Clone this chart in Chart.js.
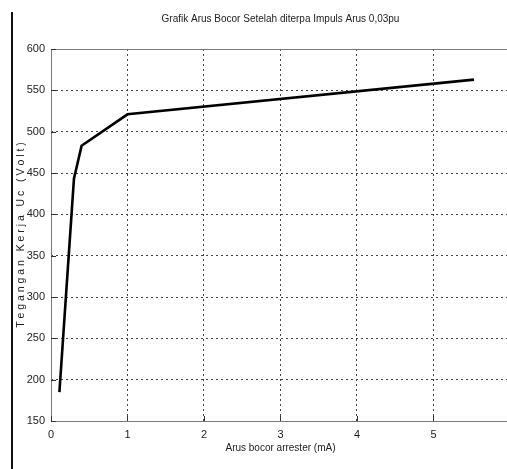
<!DOCTYPE html>
<html>
<head>
<meta charset="utf-8">
<script src="https://cdn.jsdelivr.net/npm/chart.js@4"></script>
<style>
  html, body { margin: 0; padding: 0; background: #fff; }
  #wrap { position: relative; width: 507px; height: 469px; overflow: hidden; }
  #edge { position: absolute; left: 11px; top: 12px; width: 2px; height: 457px; background: #111; }
  canvas { position: absolute; left: 0; top: 0; }
</style>
</head>
<body>
<div id="wrap">
  <canvas id="chart" width="520" height="469"></canvas>
  <div id="edge"></div>
</div>
<script>
const currentMa = [0.11, 0.30, 0.40, 1.0, 5.53];
const voltage = [185, 443, 483, 521, 563];
const xTicks = [0, 1, 2, 3, 4, 5, 6];
const yTicks = [150, 200, 250, 300, 350, 400, 450, 500, 550, 600];
const chartTitle = "Grafik Arus Bocor Setelah diterpa Impuls Arus 0,03pu";

const FONT = "'Liberation Sans', Arial, sans-serif";

// title is centred over the full (uncropped) axes box, so draw it by hand
const titlePlugin = {
  id: "plotTitle",
  afterDraw(chart) {
    const { ctx, chartArea } = chart;
    ctx.save();
    ctx.font = `10px ${FONT}`;
    ctx.fillStyle = "#222";
    ctx.textAlign = "center";
    ctx.textBaseline = "middle";
    ctx.fillText(chartTitle, (chartArea.left + chartArea.right) / 2, chartArea.top - 30);
    ctx.restore();
  }
};

const framePlugin = {
  id: "frame",
  afterDraw(chart) {
    const { ctx, chartArea } = chart;
    ctx.save();
    ctx.strokeStyle = "#7a7a7a";
    ctx.lineWidth = 1;
    ctx.strokeRect(chartArea.left + 0.5, chartArea.top + 0.5,
      chartArea.right - chartArea.left, chartArea.bottom - chartArea.top);
    // small inward tick marks like the original
    ctx.strokeStyle = "#333";
    const xs = chart.scales.x;
    const ys = chart.scales.y;
    xTicks.forEach((v) => {
      const px = Math.round(xs.getPixelForValue(v)) + 0.5;
      ctx.beginPath();
      ctx.moveTo(px, chartArea.bottom);
      ctx.lineTo(px, chartArea.bottom - 5);
      ctx.stroke();
    });
    yTicks.forEach((v) => {
      const py = Math.round(ys.getPixelForValue(v)) + 0.5;
      ctx.beginPath();
      ctx.moveTo(chartArea.left, py);
      ctx.lineTo(chartArea.left + 5, py);
      ctx.stroke();
    });
    ctx.restore();
  }
};

new Chart(document.getElementById("chart"), {
  type: "line",
  data: {
    datasets: [
      {
        data: currentMa.map((x, i) => ({ x, y: voltage[i] })),
        borderColor: "#000",
        borderWidth: 2.6,
        pointRadius: 0,
        tension: 0,
        fill: false
      }
    ]
  },
  options: {
    responsive: false,
    animation: false,
    layout: { padding: { left: 11, right: 9, top: 49, bottom: 11 } },
    plugins: {
      legend: { display: false },
      tooltip: { enabled: false },
      title: { display: false }
    },
    scales: {
      x: {
        type: "linear",
        min: 0,
        max: 6,
        afterBuildTicks: (scale) => { scale.ticks = xTicks.map((v) => ({ value: v })); },
        afterFit: (scale) => { scale.height = 37; },
        ticks: { color: "#222", padding: 7, font: { family: FONT, size: 11 } },
        grid: { color: "#444", lineWidth: 1, drawTicks: false },
        border: { display: false, dash: [2, 3] },
        title: {
          display: true,
          text: "Arus bocor arrester (mA)",
          color: "#222",
          font: { family: FONT, size: 10 },
          padding: 4
        }
      },
      y: {
        min: 150,
        max: 600,
        afterBuildTicks: (scale) => { scale.ticks = yTicks.map((v) => ({ value: v })); },
        afterFit: (scale) => { scale.width = 40; },
        ticks: { color: "#222", padding: 6, font: { family: FONT, size: 11 } },
        grid: { color: "#444", lineWidth: 1, drawTicks: false },
        border: { display: false, dash: [2, 3] },
        title: {
          display: true,
          text: "T e g a n g a n   K e r j a   U c   ( V o l t )",
          color: "#222",
          font: { family: FONT, size: 10.5 },
          padding: 4
        }
      }
    }
  },
  plugins: [framePlugin, titlePlugin]
});
</script>
</body>
</html>
